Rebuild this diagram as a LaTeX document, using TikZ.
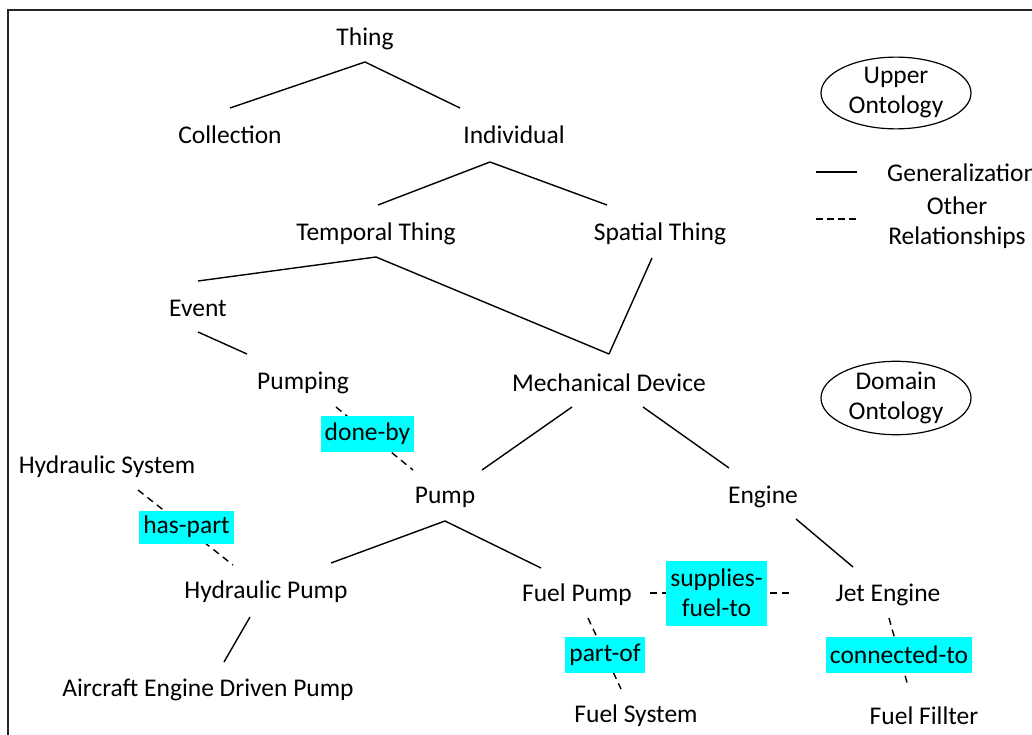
\documentclass[tikz,border=0pt]{standalone}
\usepackage{fontspec}
\setmainfont{Carlito}
\usetikzlibrary{shapes.geometric}
\definecolor{lab}{RGB}{0,255,255}
\begin{document}
\begin{tikzpicture}[x=1pt,y=-1pt,
  every node/.style={font=\fontsize{25.5}{30}\selectfont, inner sep=0pt},
  gen/.style={line width=1.4pt, black},
  rel/.style={line width=1.4pt, black, dash pattern=on 7pt off 5pt},
  relbox/.style={fill=lab, inner xsep=4pt, minimum height=36pt, align=center},
  onto/.style={ellipse, draw, line width=1.2pt, minimum width=150pt, minimum height=60pt, align=center, inner sep=0pt}]
\useasboundingbox (0,0) rectangle (1032,735);
\clip (0,0) rectangle (1032,735);
\fill[white] (0,0) rectangle (1032,735);
\draw[line width=1.5pt, black!85] (8,10) rectangle (1060,760);

% nodes
\node (thing) at (365,39) {Thing};
\node (coll) at (230,135) {Collection};
\node (indiv) at (514,135) {Individual};
\node (temp) at (376,234) {Temporal Thing};
\node (spat) at (660,234) {Spatial Thing};
\node (event) at (198,308) {Event};
\node (pumping) at (303,383) {Pumping};
\node (mech) at (609,383) {Mechanical Device};
\node (hydsys) at (107,467) {Hydraulic System};
\node (pump) at (445,497) {Pump};
\node (engine) at (763,497) {Engine};
\node (hydpump) at (266,592) {Hydraulic Pump};
\node (fuelpump) at (577,595) {Fuel Pump};
\node (jet) at (888,595) {Jet Engine};
\node (aedp) at (208,690) {Aircraft Engine Driven Pump};
\node (fuelsys) at (636,716) {Fuel System};
\node (filter) at (924,716) {Fuel Fillter};

\node[onto] (upper) at (896,93) {Upper\\Ontology};
\node[onto] (domain) at (896,398) {Domain\\Ontology};

% legend
\coordinate (lg1a) at (816,172); \coordinate (lg1b) at (857,172);
\coordinate (lg2a) at (816,219); \coordinate (lg2b) at (857,219);
\draw[gen] (lg1a) -- (lg1b);
\draw[rel, dash pattern=on 7pt off 4pt] (lg2a) -- (lg2b);
\node[anchor=west] (lgen) at (887,173) {Generalization};
\node[align=center] (lrel) at (957,223) {Other\\Relationships};

% generalization connectors
\coordinate (thingA) at (365,62);
\coordinate (collT) at (230,108);
\coordinate (indivT) at (460,108);
\draw[gen] (collT) -- (thingA) -- (indivT);

\coordinate (indivA) at (490,162);
\coordinate (tempT) at (378,205);
\coordinate (spatT) at (607,205);
\draw[gen] (tempT) -- (indivA) -- (spatT);

\coordinate (tempA) at (376,257);
\coordinate (eventT) at (198,281);
\coordinate (mechT) at (609,354);
\draw[gen] (eventT) -- (tempA) -- (mechT);
\coordinate (spatA) at (652,258);
\draw[gen] (spatA) -- (mechT);

\coordinate (eventB) at (198,332);
\coordinate (pumpingT) at (247,354);
\draw[gen] (eventB) -- (pumpingT);

\coordinate (mechL) at (572,407);
\coordinate (mechR) at (643,407);
\coordinate (pumpT) at (482,470);
\coordinate (engineT) at (729,468);
\draw[gen] (mechL) -- (pumpT);
\draw[gen] (mechR) -- (engineT);

\coordinate (pumpA) at (445,521);
\coordinate (hydpumpT) at (331,563);
\coordinate (fuelpumpT) at (541,568);
\draw[gen] (hydpumpT) -- (pumpA) -- (fuelpumpT);

\coordinate (engineB) at (796,519);
\coordinate (jetT) at (853,567);
\draw[gen] (engineB) -- (jetT);

\coordinate (hydpumpB) at (250,617);
\coordinate (aedpT) at (224,662);
\draw[gen] (hydpumpB) -- (aedpT);

% other relationships
\coordinate (pumpingB) at (336,407);
\coordinate (pumpTL) at (413,470);
\draw[rel] (pumpingB) -- (pumpTL);
\node[relbox] (doneby) at (367.5,434) {done-by};

\coordinate (hydsysB) at (138,490);
\coordinate (hydpumpTL) at (233,565);
\draw[rel] (hydsysB) -- (hydpumpTL);
\node[relbox, minimum height=33pt] (haspart) at (186.5,527) {has-part};

\coordinate (fuelpumpR) at (650,593);
\coordinate (jetL) at (789,593);
\draw[rel] (fuelpumpR) -- (jetL);
\node[relbox, minimum height=65pt, minimum width=95pt] (supplies) at (716.5,593) {supplies-\\fuel-to};

\coordinate (fuelpumpB) at (588,618);
\coordinate (fuelsysT) at (621,689);
\draw[rel] (fuelpumpB) -- (fuelsysT);
\node[relbox] (partof) at (605,655) {part-of};

\coordinate (jetB) at (889,618);
\coordinate (filterT) at (908,686);
\draw[rel] (jetB) -- (filterT);
\node[relbox] (connto) at (899,655) {connected-to};
\end{tikzpicture}
\end{document}
